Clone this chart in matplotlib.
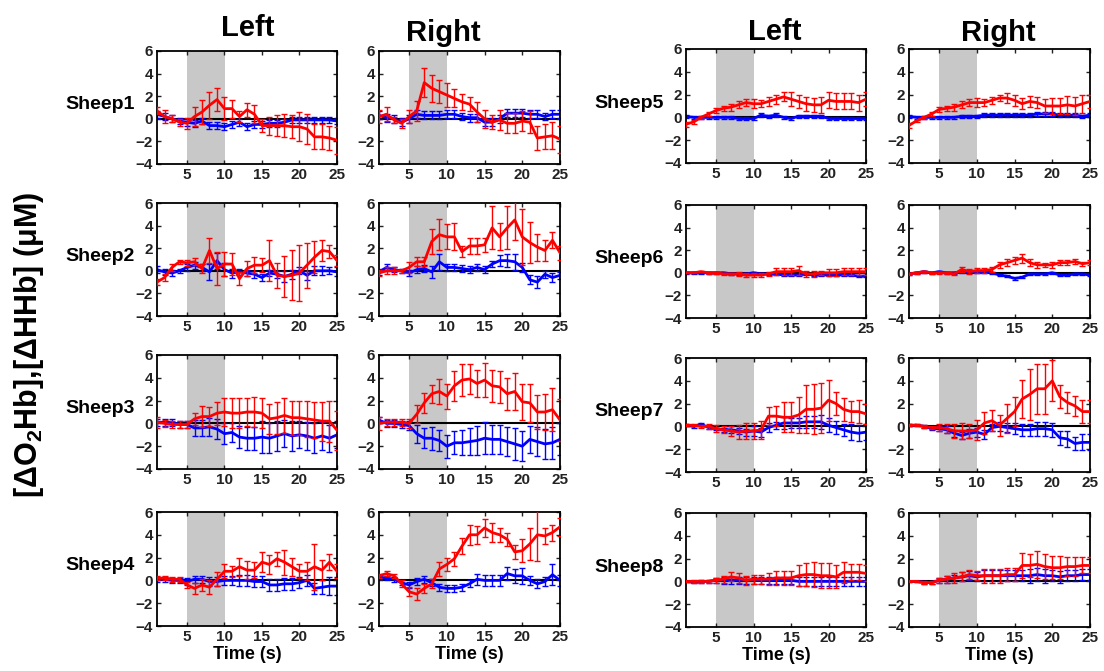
import numpy as np
import matplotlib
matplotlib.use('Agg')
import matplotlib.pyplot as plt

plt.rcParams['font.family'] = ['Liberation Sans', 'DejaVu Sans']
plt.rcParams['font.weight'] = 'bold'
plt.rcParams['mathtext.fontset'] = 'custom'
plt.rcParams['mathtext.rm'] = 'Liberation Sans:bold'
plt.rcParams['mathtext.it'] = 'Liberation Sans:bold'
plt.rcParams['mathtext.bf'] = 'Liberation Sans:bold'

time = list(range(1, 26))

# red = O2Hb, blue = HHb ; l = left hemisphere, r = right hemisphere
s1l_red = [0.7,0.2,0,-0.3,-0.4,0.2,0.6,1.2,1.7,0.9,0.9,0.2,0.8,0.4,-0.6,-0.6,-0.6,-0.6,-0.7,-0.7,-0.9,-1.6,-1.6,-1.7,-1.9]
s1l_red_err = [0.3,0.6,0.3,0.3,0.5,0.8,1.1,1.2,1.0,1.0,0.8,0.5,0.6,0.8,0.6,0.8,0.9,1.0,1.0,1.3,1.3,1.1,1.1,1.1,1.2]
s1l_blue = [0.4,0.2,0,-0.2,-0.3,-0.4,-0.2,-0.6,-0.6,-0.7,-0.5,-0.3,-0.7,-0.5,-0.5,-0.4,-0.4,-0.3,-0.1,-0.1,-0.1,-0.1,-0.1,-0.1,-0.2]
s1l_blue_err = [0.3]*25
s1r_red = [0.2,0.4,-0.1,-0.4,0.2,0.7,3.2,2.7,2.4,2.1,1.8,1.5,1.3,0.6,0.0,-0.3,-0.1,-0.4,-0.4,-0.2,-0.3,-1.7,-1.6,-1.5,-1.8]
s1r_red_err = [0.6,0.6,0.3,0.4,0.6,0.9,1.3,1.2,1.0,1.1,0.8,0.7,0.6,0.9,0.8,0.6,0.9,0.9,0.9,0.9,1.0,1.1,1.1,1.2,1.2]
s1r_blue = [0.3,0.1,0,-0.3,0,0.4,0.3,0.3,0.3,0.4,0.4,0.2,0.1,0.1,-0.3,-0.3,0,0.5,0.5,0.5,0.4,0.4,0.2,0.4,0.4]
s1r_blue_err = [0.35]*25

s2l_red = [-1.0,-0.6,0.3,0.8,0.7,0.8,0.2,1.8,0.2,0.6,0.6,-0.7,0.2,0.5,0.5,0.9,-0.4,-0.5,-0.4,-0.2,0.5,1.2,1.8,1.7,0.9]
s2l_red_err = [0.3,0.3,0.3,0.2,0.3,0.3,0.4,1.1,1.5,1.1,1.0,0.6,0.7,0.7,0.6,1.8,1.1,1.8,2.2,2.5,2.0,1.4,0.9,0.6,0.5]
s2l_blue = [0.1,-0.1,-0.2,0,0.3,0.5,0.3,-0.1,0.9,0.1,-0.2,-0.1,-0.2,-0.3,-0.6,-0.2,-0.3,-0.5,-0.3,0,-0.4,0,0,0,-0.1]
s2l_blue_err = [0.3,0.3,0.3,0.2,0.3,0.3,0.3,0.7,0.7,0.6,0.4,0.3,0.3,0.3,0.3,0.3,0.3,0.5,0.4,0.3,0.4,0.4,0.4,0.3,0.4]
s2r_red = [-0.2,0,0,0,0.3,0.8,0.8,2.6,3.2,3.0,3.0,1.7,2.2,2.2,2.3,3.8,3.0,3.8,4.5,3.0,2.5,2.1,1.8,2.7,1.6]
s2r_red_err = [0.3,0.3,0.3,0.2,0.5,0.4,0.4,1.1,1.4,1.1,1.2,0.5,0.7,0.7,0.6,1.9,1.2,1.9,1.8,2.5,1.8,1.2,0.9,0.7,0.6]
s2r_blue = [-0.1,0.3,0.1,0,-0.2,0.1,0.2,-0.1,0.8,0.3,0.3,0.2,0.1,0.3,0.1,0.6,0.9,0.9,0.8,0.3,-0.8,-1.0,-0.3,-0.6,-0.4]
s2r_blue_err = [0.3,0.3,0.2,0.2,0.3,0.3,0.3,0.5,0.7,0.3,0.3,0.3,0.3,0.3,0.3,0.3,0.5,0.6,0.7,0.4,0.4,0.5,0.3,0.4,0.3]

s3l_red = [0.1,0,-0.1,-0.1,-0.1,0.4,0.6,0.6,0.9,1.0,0.9,0.9,1.0,1.0,0.9,0.4,0.5,0.7,0.5,0.5,0.4,0.3,0.2,0.2,-0.6]
s3l_red_err = [0.5,0.3,0.3,0.3,0.3,0.5,0.9,0.8,1.0,1.2,1.3,1.3,1.2,1.3,1.3,1.3,1.4,1.5,1.5,1.5,1.6,1.6,1.7,1.8,1.7]
s3l_blue = [0.1,0.1,0.1,-0.1,-0.1,-0.4,-0.4,-0.3,-0.5,-0.9,-0.8,-1.2,-1.3,-1.3,-1.2,-1.3,-1.1,-0.9,-1.1,-1.0,-1.1,-1.3,-1.1,-1.3,-1.0]
s3l_blue_err = [0.3,0.3,0.3,0.3,0.3,0.7,0.7,0.8,0.9,0.9,0.8,1.0,1.0,1.0,1.4,1.3,1.3,1.2,1.3,1.2,1.2,1.3,1.2,1.2,1.2]
s3r_red = [0,0.1,0.1,0.1,0,0.8,1.8,2.6,2.8,2.4,3.3,3.8,3.9,3.5,3.8,3.3,3.2,2.6,2.8,1.9,1.8,1.0,1.0,1.2,0.3]
s3r_red_err = [0.6,0.3,0.3,0.3,0.4,0.8,0.9,0.8,1.1,1.1,1.3,1.4,1.3,1.2,1.5,1.4,1.4,1.4,1.6,1.6,1.7,1.5,1.6,1.9,1.8]
s3r_blue = [0.3,0,0,-0.1,-0.2,-0.9,-1.3,-1.3,-1.5,-2.0,-1.7,-1.7,-1.6,-1.5,-1.3,-1.4,-1.4,-1.6,-1.8,-2.0,-1.4,-1.6,-1.8,-1.7,-1.4]
s3r_blue_err = [0.3,0.3,0.3,0.3,0.4,0.8,0.9,1.0,0.9,1.0,1.0,1.1,1.2,1.3,1.4,1.3,1.3,1.3,1.4,1.3,1.2,1.3,1.3,1.4,1.4]

s4l_red = [0.2,0.2,0.1,0.1,-0.4,-0.7,-0.4,-0.6,0.1,0.8,0.8,1.2,0.9,0.9,1.6,1.4,1.9,1.6,1.2,0.8,0.8,1.2,0.9,1.6,0.8]
s4l_red_err = [0.2,0.2,0.2,0.2,0.3,0.5,0.5,0.6,0.6,0.6,0.5,0.8,0.8,0.7,0.9,0.8,0.6,1.1,0.8,0.6,0.8,2.0,0.9,0.7,0.6]
s4l_blue = [0.1,0.1,0,0,-0.1,0.1,0.1,-0.1,-0.1,0,0,0,0,-0.1,-0.1,-0.4,-0.4,-0.3,-0.3,-0.2,0,-0.7,-0.6,-0.5,-0.5]
s4l_blue_err = [0.2,0.2,0.2,0.2,0.3,0.3,0.3,0.4,0.4,0.4,0.4,0.5,0.5,0.5,0.5,0.5,0.5,0.5,0.5,0.5,0.5,0.5,0.6,0.8,0.8]
s4r_red = [0.4,0.6,0.4,-0.3,-1.0,-1.2,-0.7,-0.3,1.0,1.4,1.9,3.0,4.0,4.0,4.6,4.2,4.0,3.6,2.5,2.6,3.2,4.0,3.9,4.2,4.7]
s4r_red_err = [0.2,0.2,0.2,0.3,0.4,0.5,0.4,0.4,0.6,0.6,0.6,0.7,0.9,0.8,0.8,0.8,0.6,0.6,0.6,1.0,1.4,2.3,0.7,0.7,0.8]
s4r_blue = [0.3,0.2,0.1,-0.2,-0.4,-0.1,0.1,-0.2,-0.6,-0.7,-0.7,-0.6,-0.3,0.1,0,0,0,0.6,0.4,0.4,0,-0.3,-0.1,0.5,0]
s4r_blue_err = [0.2,0.2,0.2,0.2,0.3,0.3,0.3,0.3,0.3,0.3,0.3,0.3,0.3,0.5,0.5,0.5,0.5,0.6,0.6,0.7,0.4,0.4,0.4,0.9,0.5]

s5l_red = [-0.6,-0.4,0,0.3,0.6,0.8,0.9,1.1,1.3,1.2,1.2,1.4,1.6,1.8,1.6,1.4,1.2,1.1,1.1,1.5,1.4,1.4,1.4,1.3,1.6]
s5l_red_err = [0.2,0.2,0.1,0.2,0.2,0.2,0.3,0.3,0.3,0.4,0.3,0.4,0.4,0.4,0.6,0.6,0.6,0.6,0.7,0.7,0.7,0.7,0.7,0.7,0.6]
s5l_blue = [0.1,0,0,0,0,0,0,-0.1,-0.1,-0.1,0.2,0.1,0.2,0,-0.1,0.1,0.1,0.1,0.1,-0.1,-0.1,-0.1,-0.1,-0.1,-0.1]
s5l_blue_err = [0.15]*25
s5r_red = [-0.7,-0.3,0,0.3,0.7,0.8,0.9,1.1,1.3,1.3,1.3,1.5,1.7,1.7,1.5,1.2,1.4,1.3,1.0,1.0,1.0,1.1,1.0,1.2,1.4]
s5r_red_err = [0.2,0.1,0.1,0.2,0.2,0.2,0.3,0.3,0.3,0.4,0.3,0.3,0.3,0.4,0.5,0.5,0.5,0.5,0.6,0.7,0.7,0.8,0.8,0.8,0.6]
s5r_blue = [0.1,0,0,0,0,0,0,0.1,0.1,0.1,0.2,0.2,0.2,0.2,0.2,0.2,0.2,0.3,0.3,0.3,0.2,0.2,0.2,0.1,0.2]
s5r_blue_err = [0.15]*25

s6l_red = [0,0,0.1,0,0,-0.1,-0.1,-0.1,-0.2,-0.2,-0.2,-0.1,0.1,0.1,0.1,0.2,-0.1,-0.1,0,0,0,0.1,0.1,0.1,0.1]
s6l_red_err = [0.05,0.05,0.05,0.1,0.1,0.1,0.1,0.2,0.2,0.2,0.2,0.2,0.3,0.3,0.3,0.4,0.3,0.3,0.2,0.3,0.3,0.3,0.3,0.3,0.3]
s6l_blue = [0,0,0,0,0,0,-0.1,-0.1,-0.1,0,-0.1,-0.1,-0.1,-0.2,-0.2,-0.2,-0.1,-0.2,-0.2,-0.2,-0.2,-0.2,-0.2,-0.3,-0.3]
s6l_blue_err = [0.1]*25
s6r_red = [-0.1,0,0.1,0,0,0,-0.1,0.3,0.1,0.2,0.2,0.3,0.7,0.9,1.1,1.3,0.9,0.7,0.7,0.7,0.9,0.9,1.0,0.8,0.9]
s6r_red_err = [0.1,0.1,0.1,0.1,0.1,0.1,0.1,0.2,0.2,0.2,0.2,0.2,0.3,0.3,0.3,0.4,0.3,0.3,0.2,0.3,0.2,0.2,0.2,0.2,0.2]
s6r_blue = [-0.1,0,0.1,0,0.1,0,0,0.1,0.1,0.1,0.1,0,-0.2,-0.3,-0.5,-0.4,-0.1,-0.1,-0.1,0,-0.2,-0.2,-0.1,-0.1,-0.2]
s6r_blue_err = [0.1]*25

s7l_red = [0.1,0.1,0,0,-0.2,-0.3,-0.4,-0.5,-0.4,-0.4,-0.3,0.9,0.9,0.8,0.8,1.0,1.5,1.5,1.6,2.3,2.0,1.5,1.3,1.3,1.1]
s7l_red_err = [0.1,0.1,0.1,0.2,0.3,0.3,0.4,0.6,0.7,0.7,0.8,0.8,0.9,1.3,1.3,1.6,2.1,2.2,2.2,1.8,1.0,1.0,0.9,1.0,0.9]
s7l_blue = [0.1,0,0.2,-0.1,-0.2,-0.3,-0.3,-0.4,-0.5,-0.4,-0.5,-0.1,0.1,0.3,0.3,0.3,0.4,0.4,0.4,0.1,-0.1,-0.3,-0.5,-0.6,-0.5]
s7l_blue_err = [0.1,0.1,0.1,0.1,0.1,0.2,0.3,0.3,0.3,0.4,0.4,0.4,0.3,0.5,0.4,0.4,0.5,0.5,0.6,0.6,0.6,0.5,0.7,0.7,0.7]
s7r_red = [0.1,0.1,0,-0.1,-0.1,-0.2,-0.4,-0.4,-0.4,-0.3,0.3,0.5,0.1,0.7,1.3,2.4,2.8,3.3,3.3,4.0,2.6,2.1,1.8,1.3,1.3]
s7r_red_err = [0.1,0.1,0.1,0.1,0.3,0.4,0.6,0.7,0.6,0.9,1.0,0.9,0.9,1.3,1.3,1.7,2.2,2.2,2.2,1.8,1.0,0.9,0.9,1.0,1.0]
s7r_blue = [0.1,0.1,0,-0.2,-0.2,-0.3,-0.6,-0.8,-0.6,-0.5,-0.7,-0.1,0,-0.1,-0.2,-0.3,-0.3,-0.2,-0.2,-0.3,-1.0,-1.1,-1.5,-1.4,-1.4]
s7r_blue_err = [0.1,0.1,0.1,0.1,0.2,0.3,0.3,0.3,0.4,0.4,0.4,0.3,0.4,0.4,0.5,0.5,0.5,0.6,0.6,0.6,0.6,0.7,0.6,0.7,0.7]

s8l_red = [0,0,0,0,0.1,0.2,0.4,0.3,0.1,0.2,0.2,0.2,0.3,0.3,0.3,0.5,0.6,0.6,0.5,0.5,0.4,0.8,0.8,0.8,0.7]
s8l_red_err = [0.05,0.1,0.1,0.1,0.2,0.3,0.4,0.4,0.4,0.4,0.4,0.5,0.6,0.6,0.6,0.9,1.0,1.1,1.1,1.1,1.0,0.9,0.7,0.7,0.7]
s8l_blue = [0,-0.1,0,0,0.1,0.1,0.1,0.1,0.1,0.1,0.1,0.1,0.1,0.1,0.1,0,0,0,0,0,0,0,0,0,0]
s8l_blue_err = [0.05,0.05,0.1,0.1,0.2,0.3,0.3,0.3,0.3,0.3,0.3,0.3,0.3,0.3,0.3,0.4,0.4,0.4,0.4,0.4,0.4,0.4,0.4,0.4,0.4]
s8r_red = [0,0,-0.1,-0.1,0.1,0.2,0.3,0.4,0.6,0.5,0.5,0.5,0.5,0.6,0.6,1.4,1.4,1.5,1.3,1.2,1.2,1.3,1.3,1.4,1.4]
s8r_red_err = [0.05,0.05,0.1,0.1,0.2,0.3,0.4,0.4,0.4,0.4,0.6,0.6,0.6,0.6,0.6,1.1,1.0,1.2,1.1,1.0,1.0,0.8,0.8,0.7,0.7]
s8r_blue = [0,0,-0.1,-0.1,0.1,0.2,0.3,0.4,0.5,0.4,0.5,0.5,0.5,0.5,0.5,0.5,0.5,0.6,0.5,0.5,0.4,0.5,0.5,0.6,0.6]
s8r_blue_err = [0.05,0.05,0.1,0.1,0.2,0.3,0.3,0.4,0.4,0.4,0.5,0.5,0.5,0.5,0.5,0.5,0.6,0.6,0.6,0.5,0.5,0.5,0.5,0.5,0.5]

sheep_names = ['Sheep1','Sheep2','Sheep3','Sheep4','Sheep5','Sheep6','Sheep7','Sheep8']
panels = [
    [(s1l_red,s1l_red_err,s1l_blue,s1l_blue_err),(s1r_red,s1r_red_err,s1r_blue,s1r_blue_err)],
    [(s2l_red,s2l_red_err,s2l_blue,s2l_blue_err),(s2r_red,s2r_red_err,s2r_blue,s2r_blue_err)],
    [(s3l_red,s3l_red_err,s3l_blue,s3l_blue_err),(s3r_red,s3r_red_err,s3r_blue,s3r_blue_err)],
    [(s4l_red,s4l_red_err,s4l_blue,s4l_blue_err),(s4r_red,s4r_red_err,s4r_blue,s4r_blue_err)],
    [(s5l_red,s5l_red_err,s5l_blue,s5l_blue_err),(s5r_red,s5r_red_err,s5r_blue,s5r_blue_err)],
    [(s6l_red,s6l_red_err,s6l_blue,s6l_blue_err),(s6r_red,s6r_red_err,s6r_blue,s6r_blue_err)],
    [(s7l_red,s7l_red_err,s7l_blue,s7l_blue_err),(s7r_red,s7r_red_err,s7r_blue,s7r_blue_err)],
    [(s8l_red,s8l_red_err,s8l_blue,s8l_blue_err),(s8r_red,s8r_red_err,s8r_blue,s8r_blue_err)],
]

W, H = 1104, 671
fig = plt.figure(figsize=(W/100, H/100), dpi=100)

# pixel boxes for panels (left, right) columns and (top, bottom) rows
cols_left_group = [(157, 337), (379, 560)]
cols_right_group = [(686, 866), (909, 1090)]
rows_left_group = [(51, 164), (203, 316), (355, 469), (512, 626)]
rows_right_group = [(49, 163), (205, 318), (358, 472), (513, 627)]

def make_ax(x0, x1, y0, y1):
    return fig.add_axes([x0/W, 1 - y1/H, (x1-x0)/W, (y1-y0)/H])

for i in range(8):
    if i < 4:
        cols, (top, bot) = cols_left_group, rows_left_group[i]
    else:
        cols, (top, bot) = cols_right_group, rows_right_group[i-4]
    for j in range(2):
        red, red_err, blue, blue_err = panels[i][j]
        x0, x1 = cols[j]
        ax = make_ax(x0, x1, top, bot)
        ax.axvspan(5, 10, color='#c8c8c8', lw=0, zorder=0)
        ax.axhline(0, color='black', lw=1.5, zorder=1)
        ax.errorbar(time, blue, yerr=blue_err, color='#0000ff', lw=2, elinewidth=1,
                    capsize=2, capthick=1, zorder=2)
        ax.errorbar(time, red, yerr=red_err, color='#ff0000', lw=2, elinewidth=1,
                    capsize=2, capthick=1, zorder=3)
        ax.set_xlim(1, 25)
        ax.set_ylim(-4, 6)
        ax.set_xticks([5, 10, 15, 20, 25])
        ax.set_yticks([-4, -2, 0, 2, 4, 6])
        ax.tick_params(direction='in', length=3, width=1, top=True, right=True,
                       labelsize=11, colors='#222222', pad=3)
        for lab in ax.get_xticklabels() + ax.get_yticklabels():
            lab.set_fontweight('bold')
        for sp in ax.spines.values():
            sp.set_linewidth(1.3)
        if j == 0:
            fig.text((x0 - 22)/W, 1 - ((top+bot)/2 - 3)/H, sheep_names[i],
                     ha='right', va='center', fontsize=14, fontweight='bold')
        if i in (3, 7):
            ax.set_xlabel('Time (s)', fontsize=13, fontweight='bold', labelpad=1)

# column titles
fig.text(248/W, 1 - 28/H, 'Left', ha='center', va='center', fontsize=21, fontweight='bold')
fig.text(443/W, 1 - 33/H, 'Right', ha='center', va='center', fontsize=21, fontweight='bold')
fig.text(775/W, 1 - 32/H, 'Left', ha='center', va='center', fontsize=21, fontweight='bold')
fig.text(998/W, 1 - 33/H, 'Right', ha='center', va='center', fontsize=21, fontweight='bold')

fig.text(29/W, 1 - 345/H, r'[$\Delta$O$_2$Hb],[$\Delta$HHb] ($\mu$M)', rotation=90,
         ha='center', va='center', fontsize=22, fontweight='bold')

fig.savefig('out.png', dpi=100)
